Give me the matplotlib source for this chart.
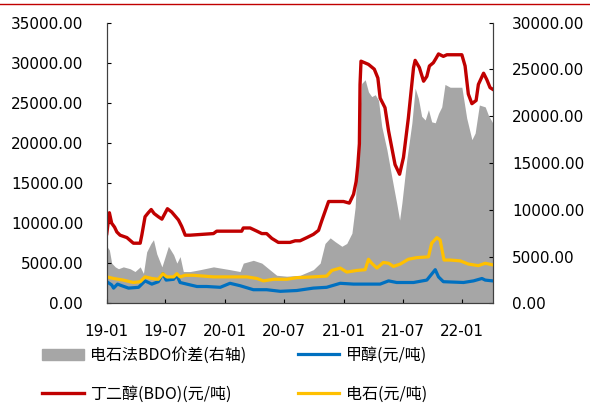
import matplotlib
matplotlib.use("Agg")
import matplotlib.pyplot as plt
import matplotlib.dates as mdates
from matplotlib.lines import Line2D
from matplotlib.patches import Patch
import pandas as pd

plt.rcParams['font.family'] = ['DejaVu Sans', 'Noto Sans CJK SC']

# data (days counted from 2019-01-01)
start = pd.Timestamp('2019-01-01')

bdo_days = [0, 8, 15, 24, 31, 41, 62, 82, 103, 108, 118, 128, 137, 146, 159, 170,
            187, 200, 221, 231, 242, 257, 329, 339, 416, 421, 442, 463, 478, 493,
            509, 529, 565, 581, 596, 617, 637, 653, 663, 684, 730, 748, 761, 769,
            774, 779, 781, 784, 807, 825, 836, 843, 858, 869, 889, 903, 915, 930,
            946, 951, 964, 977, 987, 995, 1007, 1016, 1023, 1038, 1049, 1095, 1105,
            1115, 1126, 1139, 1146, 1162, 1172, 1182, 1190]
bdo = [8700, 11300, 10000, 9500, 8900, 8500, 8200, 7500, 7500, 8500, 10800, 11300,
       11700, 11200, 10800, 10500, 11800, 11400, 10400, 9600, 8500, 8500, 8700, 9000,
       9000, 9400, 9400, 9000, 8700, 8700, 8100, 7600, 7600, 7800, 7800, 8200, 8600,
       9100, 10300, 12700, 12700, 12500, 13600, 15200, 17100, 19900, 27300, 30200,
       29800, 29200, 28100, 25600, 24400, 21500, 17300, 16100, 18200, 23100, 29400,
       30300, 29400, 27700, 28300, 29600, 30000, 30600, 31100, 30800, 31000, 31000,
       29600, 26100, 24900, 25300, 27300, 28700, 27900, 26900, 26700]

spread_days = [0, 8, 15, 26, 36, 51, 72, 87, 103, 113, 123, 136, 144, 154, 170, 190,
               206, 216, 226, 236, 257, 288, 329, 380, 411, 421, 452, 478, 499, 524,
               555, 596, 637, 658, 673, 689, 704, 725, 740, 756, 766, 776, 786, 797,
               807, 817, 828, 838, 848, 864, 879, 894, 903, 910, 925, 941, 951, 961,
               971, 982, 992, 1002, 1013, 1023, 1033, 1043, 1059, 1095, 1110, 1126,
               1136, 1149, 1167, 1177, 1190]
spread = [6100, 5700, 4300, 3900, 3700, 3900, 3700, 3400, 3900, 3200, 5500, 6400,
          6800, 5300, 3900, 6100, 5200, 4300, 5000, 3400, 3400, 3600, 3900, 3600,
          3400, 4300, 4600, 4300, 3700, 3000, 2900, 3000, 3600, 4300, 6400, 7000,
          6600, 6100, 6400, 7500, 10300, 17500, 23500, 23900, 22600, 22100, 22300,
          21700, 18900, 16400, 13500, 10700, 8900, 10700, 15300, 19300, 23000, 21900,
          20000, 19600, 20700, 19400, 19300, 20300, 21000, 23400, 23100, 23100, 19800,
          17500, 18200, 21200, 21000, 20100, 19300]

meoh_days = [0, 15, 21, 33, 46, 67, 98, 118, 139, 159, 173, 183, 206, 216, 226, 257,
             278, 308, 350, 380, 411, 452, 493, 535, 586, 637, 678, 720, 761, 802,
             843, 869, 894, 946, 987, 1013, 1023, 1038, 1100, 1131, 1157, 1167, 1190]
meoh = [2700, 2300, 1900, 2400, 2200, 1900, 2000, 2800, 2400, 2700, 3700, 2900, 3000,
        3500, 2600, 2300, 2100, 2100, 2000, 2500, 2200, 1700, 1700, 1500, 1600, 1900,
        2000, 2500, 2400, 2400, 2400, 2800, 2600, 2600, 2900, 4200, 3300, 2700, 2600,
        2800, 3100, 2900, 2800]

carb_days = [0, 21, 51, 82, 103, 118, 139, 159, 173, 185, 206, 216, 226, 242, 267,
             329, 411, 432, 463, 483, 514, 555, 586, 637, 678, 694, 720, 740, 771,
             797, 807, 817, 833, 853, 869, 884, 905, 930, 956, 992, 1002, 1018, 1028,
             1040, 1059, 1090, 1115, 1146, 1167, 1190]
carb = [3300, 3100, 2900, 2600, 2700, 3300, 3100, 3000, 3700, 3300, 3300, 3700, 3300,
        3500, 3500, 3300, 3300, 3300, 3100, 2800, 3000, 3000, 3200, 3300, 3400, 4100,
        4400, 3900, 4100, 4200, 5500, 5000, 4400, 5100, 5000, 4600, 4900, 5500, 5700,
        5800, 7500, 8200, 7900, 5400, 5400, 5300, 4900, 4700, 5000, 4800]

labels = ['电石法BDO价差(右轴)', '丁二醇(BDO)(元/吨)', '甲醇(元/吨)', '电石(元/吨)']
c_red = '#C00000'
c_blue = '#0070C0'
c_yel = '#FFC000'
c_gray = '#A6A6A6'


def to_dates(days):
    return start + pd.to_timedelta(days, unit='D')


fig = plt.figure(figsize=(5.9, 4.05), dpi=100)
ax = fig.add_axes([0.181, 0.251, 0.654, 0.693])
ax2 = ax.twinx()

ax2.fill_between(to_dates(spread_days), 0, spread, color=c_gray, lw=0)
ax.plot(to_dates(bdo_days), bdo, color=c_red, lw=2.4)
ax.plot(to_dates(meoh_days), meoh, color=c_blue, lw=2.3)
ax.plot(to_dates(carb_days), carb, color=c_yel, lw=2.3)

ax.set_zorder(ax2.get_zorder() + 1)
ax.patch.set_visible(False)

ax.set_ylim(0, 35000)
ax2.set_ylim(0, 30000)
ax.set_yticks(range(0, 35001, 5000))
ax2.set_yticks(range(0, 30001, 5000))
ax.yaxis.set_major_formatter(matplotlib.ticker.FormatStrFormatter('%.2f'))
ax2.yaxis.set_major_formatter(matplotlib.ticker.FormatStrFormatter('%.2f'))
ax.set_xlim(to_dates([0])[0], to_dates([1190])[0])
ax.xaxis.set_major_locator(mdates.MonthLocator(bymonth=[1, 7]))
ax.xaxis.set_major_formatter(mdates.DateFormatter('%y-%m'))

for a in (ax, ax2):
    a.spines['top'].set_visible(False)
    for s in a.spines.values():
        s.set_linewidth(0.8)
        s.set_color('#404040')
ax.tick_params(axis='y', direction='in', length=3, width=0.8, labelsize=11, pad=17)
ax.tick_params(axis='x', direction='in', length=3, width=0.8, labelsize=11, pad=15)
ax2.tick_params(axis='y', direction='in', length=3, width=0.8, labelsize=11, pad=14)

handles = [Patch(color=c_gray),
           Line2D([], [], color=c_red, lw=2.4),
           Line2D([], [], color=c_blue, lw=2.3),
           Line2D([], [], color=c_yel, lw=2.3)]
fig.legend(handles, labels, ncol=2, loc='upper left', bbox_to_anchor=(0.072, 0.143),
           frameon=False, handlelength=2.6, handletextpad=0.4,
           columnspacing=3.2, labelspacing=1.35, borderpad=0, borderaxespad=0,
           prop={'family': ['Noto Sans CJK SC', 'DejaVu Sans'], 'size': 11.5})

fig.add_artist(Line2D([0, 1], [1 - 4 / 405, 1 - 4 / 405], color=c_red, lw=1.0))

fig.savefig('out.png', dpi=100)
